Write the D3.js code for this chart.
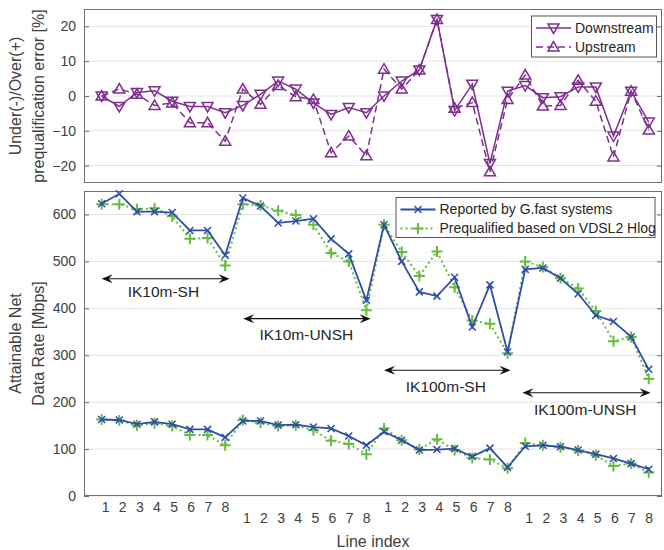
<!DOCTYPE html>
<html>
<head>
<meta charset="utf-8">
<script src="https://cdn.jsdelivr.net/npm/d3@7"></script>
<style>
  body { margin: 0; background: #fff; }
  text { font-family: "Liberation Sans", Arial, sans-serif; }
</style>
</head>
<body>
<script>
// line index labels, 4 groups of 8 lines
const groupLabels = [1, 2, 3, 4, 5, 6, 7, 8];
const groupCount = 4;

// prequalification error [%]
const downstreamErr = [
  0, -3, 1, 1.5, -1.5, -3, -3, -4.8,
  -2.7, 0.5, 4.3, 2, -2, -5.3, -3.3, -4.8,
  0, 4.3, 7.5, 22, -4.2, 3.4, -19.4, 1.4,
  3, -0.5, -0.2, 2.6, 2.6, -11.5, 1.4, -7.5];
const upstreamErr = [
  0, 2, 0.5, -2.7, -2, -7.7, -7.7, -13,
  2, -2.4, 3, -0.2, -1, -16.3, -11.5, -17.2,
  7.7, 2, 7.5, 22, -3.5, -1.9, -21.8, -1,
  6, -2.9, -2.7, 4.5, -1.5, -17.5, 1.4, -9.8];

// attainable net data rate [Mbps], downstream (upper) and upstream (lower)
const reportedDS = [
  623, 644, 606, 606, 604, 566, 566, 513,
  635, 618, 582, 586, 591, 548, 516, 417,
  578, 500, 435, 426, 466, 360, 450, 307,
  483, 486, 464, 431, 385, 372, 339, 270];
const prequalDS = [
  622, 622, 611, 613, 596, 548, 550, 491,
  622, 619, 608, 599, 578, 518, 500, 396,
  578, 520, 469, 521, 445, 374, 367, 304,
  500, 488, 464, 442, 394, 330, 339, 250];
const reportedUS = [
  163, 162, 153, 158, 153, 142, 142, 125,
  160, 160, 151, 152, 147, 144, 128, 108,
  137, 119, 98, 99, 101, 84, 102, 61,
  106, 108, 105, 98, 89, 80, 69, 57];
const prequalUS = [
  163, 161, 151, 155, 149, 130, 130, 108,
  162, 156, 149, 151, 140, 118, 111, 89,
  144, 119, 99, 121, 98, 81, 78, 59,
  113, 108, 104, 97, 87, 64, 69, 50];

const errTicks = [-20, -10, 0, 10, 20];
const rateTicks = [0, 100, 200, 300, 400, 500, 600];

// double arrows marking the scenarios: [from index, to index, rate, label index, label rate, text]
const scenarios = [
  { x0: 1, x1: 8.25, y: 463, lx: 4.5, ly: 436, name: 'IK10m-SH' },
  { x0: 9.02, x1: 16.24, y: 378, lx: 12.6, ly: 345, name: 'IK10m-UNSH' },
  { x0: 17.0, x1: 24.17, y: 268, lx: 20.5, ly: 234, name: 'IK100m-SH' },
  { x0: 24.84, x1: 32.1, y: 220, lx: 28.4, ly: 185, name: 'IK100m-UNSH' },
];

const purple = '#7e2f8e';
const blue = '#2f4ea5';
const green = '#66bd3d';
const axisGray = '#6e6e6e';
const textGray = '#404040';

const width = 664;
const height = 550;
const svg = d3.select('body').append('svg').attr('width', width).attr('height', height);

const x = d3.scaleLinear().domain([0, 32.75]).range([84, 662]);
const yErr = d3.scaleLinear().domain([-25, 25]).range([183, 9]);
const yRate = d3.scaleLinear().domain([0, 650]).range([496, 191]);

const idx = d3.range(1, 33);

// 축, 그리드, 박스
function drawFrame(y, ticks) {
  const [top, bottom] = [y.range()[1], y.range()[0]];
  const g = svg.append('g');

  g.selectAll('.grid')
    .data(ticks)
    .enter()
    .append('line')
    .attr('x1', x.range()[0])
    .attr('x2', x.range()[1])
    .attr('y1', (d) => y(d))
    .attr('y2', (d) => y(d))
    .attr('stroke', '#e3e3e3')
    .attr('stroke-width', 1);

  const left = g.append('g')
    .attr('transform', `translate(${x.range()[0]},0)`)
    .call(d3.axisLeft(y).tickValues(ticks).tickSize(-5).tickPadding(8));
  const right = g.append('g')
    .attr('transform', `translate(${x.range()[1]},0)`)
    .call(d3.axisRight(y).tickValues(ticks).tickSize(-5).tickFormat(''));
  [left, right].forEach((a) => {
    a.select('.domain').remove();
    a.selectAll('line').attr('stroke', axisGray);
    a.selectAll('text')
      .attr('fill', textGray)
      .style('font-size', '14px')
      .style('font-family', '"Liberation Sans", Arial, sans-serif');
  });

  g.append('rect')
    .attr('x', x.range()[0] + 0.5)
    .attr('y', top + 0.5)
    .attr('width', x.range()[1] - x.range()[0] - 1)
    .attr('height', bottom - top - 1)
    .attr('fill', 'none')
    .attr('stroke', axisGray)
    .attr('stroke-width', 1);
}

drawFrame(yErr, errTicks);
drawFrame(yRate, rateTicks);

// 마커 모양
const markers = {
  down: 'M-5.5,-4L5.5,-4L0,5.5Z',
  up: 'M-5.5,4L5.5,4L0,-5.5Z',
  cross: 'M-3.5,-3.5L3.5,3.5M-3.5,3.5L3.5,-3.5',
  plus: 'M-5.5,0L5.5,0M0,-5.5L0,5.5',
};

function drawSeries(values, y, color, dash, lineWidth, marker) {
  const pts = values.map((v, i) => ({ i: idx[i], v: v }));
  svg.append('path')
    .datum(pts)
    .attr('d', d3.line().x((d) => x(d.i)).y((d) => y(d.v)))
    .attr('fill', 'none')
    .attr('stroke', color)
    .attr('stroke-width', lineWidth)
    .attr('stroke-dasharray', dash);
  svg.append('g')
    .selectAll('path')
    .data(pts)
    .enter()
    .append('path')
    .attr('transform', (d) => `translate(${x(d.i)},${y(d.v)})`)
    .attr('d', markers[marker])
    .attr('fill', 'none')
    .attr('stroke', color)
    .attr('stroke-width', marker === 'plus' ? 2 : 1.5);
}

drawSeries(upstreamErr, yErr, purple, '7,4', 1.5, 'up');
drawSeries(downstreamErr, yErr, purple, null, 1.5, 'down');

drawSeries(prequalDS, yRate, green, '2,3', 2, 'plus');
drawSeries(reportedDS, yRate, blue, null, 1.8, 'cross');
drawSeries(prequalUS, yRate, green, '2,3', 2, 'plus');
drawSeries(reportedUS, yRate, blue, null, 1.8, 'cross');

// 시나리오 화살표
function arrowHead(px, py, dir) {
  return `M${px},${py}L${px - 11 * dir},${py - 4.5}L${px - 7 * dir},${py}L${px - 11 * dir},${py + 4.5}Z`;
}
const ann = svg.append('g');
scenarios.forEach((s) => {
  const ax0 = x(s.x0);
  const ax1 = x(s.x1);
  const ay = yRate(s.y);
  ann.append('line')
    .attr('x1', ax0 + 6).attr('x2', ax1 - 6)
    .attr('y1', ay).attr('y2', ay)
    .attr('stroke', '#111').attr('stroke-width', 1.2);
  ann.append('path').attr('d', arrowHead(ax1, ay, 1)).attr('fill', '#111');
  ann.append('path').attr('d', arrowHead(ax0, ay, -1)).attr('fill', '#111');
  ann.append('text')
    .attr('x', x(s.lx))
    .attr('y', yRate(s.ly))
    .attr('dy', '0.35em')
    .attr('text-anchor', 'middle')
    .attr('fill', '#262626')
    .style('font-size', '15.5px')
    .text(s.name);
});

// x축 라벨 (두 줄로 번갈아)
const tickData = [];
for (let g = 0; g < groupCount; g++) {
  groupLabels.forEach((lab, j) => {
    tickData.push({ g: g, j: j, lab: lab });
  });
}
svg.append('g')
  .selectAll('text')
  .data(tickData)
  .enter()
  .append('text')
  .attr('x', (d) => x(d.g * 8 + 1 + d.j * 0.97) + 4)
  .attr('y', (d) => (d.g % 2 === 0 ? 507 : 518))
  .attr('dy', '0.35em')
  .attr('text-anchor', 'middle')
  .attr('fill', textGray)
  .style('font-size', '14px')
  .text((d) => d.lab);

svg.append('text')
  .attr('x', (x.range()[0] + x.range()[1]) / 2)
  .attr('y', 541)
  .attr('dy', '0.35em')
  .attr('text-anchor', 'middle')
  .attr('fill', textGray)
  .style('font-size', '16px')
  .text('Line index');

// y축 제목
function yTitle(lines, cy) {
  lines.forEach((t, k) => {
    svg.append('text')
      .attr('transform', `translate(${15 + k * 23},${cy}) rotate(-90)`)
      .attr('dy', '0.35em')
      .attr('text-anchor', 'middle')
      .attr('fill', textGray)
      .style('font-size', '16px')
      .text(t);
  });
}
yTitle(['Under(-)/Over(+)', 'prequalification error [%]'], (yErr.range()[0] + yErr.range()[1]) / 2);
yTitle(['Attainable Net', 'Data Rate [Mbps]'], (yRate.range()[0] + yRate.range()[1]) / 2);

// 범례
function legend(bx, by, bw, bh, items) {
  const g = svg.append('g');
  g.append('rect')
    .attr('x', bx + 0.5).attr('y', by + 0.5)
    .attr('width', bw).attr('height', bh)
    .attr('fill', '#fff')
    .attr('stroke', '#555')
    .attr('stroke-width', 1);
  items.forEach((it, k) => {
    const ly = by + 12.5 + k * 19;
    g.append('line')
      .attr('x1', bx + 5).attr('x2', bx + 40)
      .attr('y1', ly).attr('y2', ly)
      .attr('stroke', it.color)
      .attr('stroke-width', it.width)
      .attr('stroke-dasharray', it.dash);
    g.append('path')
      .attr('transform', `translate(${bx + 22.5},${ly})`)
      .attr('d', markers[it.marker])
      .attr('fill', 'none')
      .attr('stroke', it.color)
      .attr('stroke-width', it.marker === 'plus' ? 2 : 1.5);
    g.append('text')
      .attr('x', bx + 44)
      .attr('y', ly)
      .attr('dy', '0.35em')
      .attr('fill', '#262626')
      .style('font-size', '14px')
      .text(it.label);
  });
}
legend(531, 15.5, 125, 41, [
  { label: 'Downstream', color: purple, dash: null, width: 1.5, marker: 'down' },
  { label: 'Upstream', color: purple, dash: '7,4', width: 1.5, marker: 'up' },
]);
legend(395.5, 197, 259, 40, [
  { label: 'Reported by G.fast systems', color: blue, dash: null, width: 1.8, marker: 'cross' },
  { label: 'Prequalified based on VDSL2 Hlog', color: green, dash: '2,3', width: 2, marker: 'plus' },
]);
</script>
</body>
</html>
